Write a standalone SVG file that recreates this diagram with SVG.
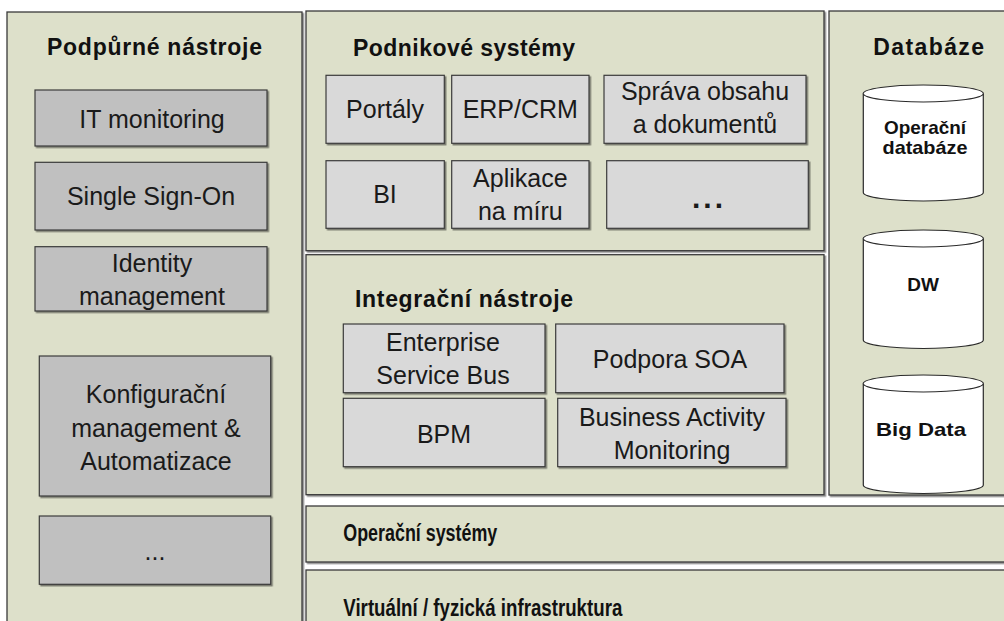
<svg xmlns="http://www.w3.org/2000/svg" width="1004" height="621" viewBox="0 0 1004 621">
<defs>
<filter id="ds" x="-5%" y="-5%" width="110%" height="110%">
<feDropShadow dx="1.5" dy="1.5" stdDeviation="0.4" flood-color="#000" flood-opacity="0.45"/>
</filter>
<style>
.panel{fill:#DDE0CA;stroke:#3a3a3a;stroke-width:1.3;filter:url(#ds)}
.boxL{fill:#C0C0C0;stroke:#3a3a3a;stroke-width:1.2;filter:url(#ds)}
.boxM{fill:#D9D9D9;stroke:#3a3a3a;stroke-width:1.2;filter:url(#ds)}
.cyl{fill:#FFFFFF;stroke:#2a2a2a;stroke-width:1.2}
.t{font-family:"Liberation Sans",Arial,sans-serif;font-weight:bold;font-size:23px;fill:#111}
.t2{font-family:"Liberation Sans",Arial,sans-serif;font-weight:bold;font-size:23px;fill:#111}
.b{font-family:"Liberation Sans",Arial,sans-serif;font-size:25px;fill:#1a1a1a;text-anchor:middle}
.c{font-family:"Liberation Sans",Arial,sans-serif;font-weight:bold;font-size:19px;fill:#111;text-anchor:middle}
</style>
</defs>
<rect width="1004" height="621" fill="#FFFFFF"/>

<g id="podpurne-nastroje">
<rect class="panel" x="7" y="12" width="295" height="630"/>
<text class="t" x="47" y="55" textLength="215" lengthAdjust="spacing">Podpůrné nástroje</text>
</g>
<g id="it-monitoring">
<rect class="boxL" x="35" y="90" width="232" height="56"/>
<text class="b" x="152" y="127.5">IT monitoring</text>
</g>
<g id="single-sign-on">
<rect class="boxL" x="35" y="162.3" width="232" height="67.7"/>
<text class="b" x="151" y="205">Single Sign-On</text>
</g>
<g id="identity-management">
<rect class="boxL" x="35" y="246.7" width="232" height="64.3"/>
<text class="b" x="152" y="272">Identity</text>
<text class="b" x="152" y="305">management</text>
</g>
<g id="konfiguracni-management">
<rect class="boxL" x="39.3" y="356" width="231.4" height="140"/>
<text class="b" x="156" y="403.3">Konfigurační</text>
<text class="b" x="156" y="436.7">management &amp;</text>
<text class="b" x="156" y="470">Automatizace</text>
</g>
<g id="podpurne-dalsi">
<rect class="boxL" x="39.3" y="516" width="231.4" height="68.3"/>
<text class="b" x="155" y="560">...</text>
</g>

<g id="podnikove-systemy">
<rect class="panel" x="306" y="11" width="518" height="239.7"/>
<text class="t" x="353" y="56" textLength="222" lengthAdjust="spacing">Podnikové systémy</text>
</g>
<g id="portaly">
<rect class="boxM" x="326" y="75.3" width="118.3" height="68"/>
<text class="b" x="385" y="118.3">Portály</text>
</g>
<g id="erp-crm">
<rect class="boxM" x="451.7" y="75.3" width="137.3" height="68"/>
<text class="b" x="520.3" y="118.3">ERP/CRM</text>
</g>
<g id="sprava-obsahu">
<rect class="boxM" x="604" y="75.3" width="202" height="68"/>
<text class="b" x="705" y="100">Správa obsahu</text>
<text class="b" x="705" y="133.3">a dokumentů</text>
</g>
<g id="bi">
<rect class="boxM" x="326" y="160.7" width="118.3" height="67.6"/>
<text class="b" x="385" y="203.3">BI</text>
</g>
<g id="aplikace-na-miru">
<rect class="boxM" x="451.7" y="160.7" width="137.3" height="67.6"/>
<text class="b" x="520.3" y="186.7">Aplikace</text>
<text class="b" x="520.3" y="220">na míru</text>
</g>
<g id="podnikove-dalsi">
<rect class="boxM" x="606.7" y="160.7" width="201.6" height="67.6"/>
<text class="b" x="707.5" y="208" style="font-weight:bold;font-size:30px" textLength="31" lengthAdjust="spacing">...</text>
</g>

<g id="integracni-nastroje">
<rect class="panel" x="306" y="254.7" width="518" height="240"/>
<text class="t" x="355" y="307.3" textLength="218" lengthAdjust="spacing">Integrační nástroje</text>
</g>
<g id="enterprise-service-bus">
<rect class="boxM" x="343.3" y="324" width="201.7" height="68.7"/>
<text class="b" x="443" y="350.7">Enterprise</text>
<text class="b" x="443" y="384">Service Bus</text>
</g>
<g id="podpora-soa">
<rect class="boxM" x="555.7" y="324" width="228.3" height="68.7"/>
<text class="b" x="670" y="368.3">Podpora SOA</text>
</g>
<g id="bpm">
<rect class="boxM" x="343.3" y="398.3" width="201.7" height="68.4"/>
<text class="b" x="444" y="443.3">BPM</text>
</g>
<g id="business-activity-monitoring">
<rect class="boxM" x="557.7" y="398.3" width="228.3" height="68.4"/>
<text class="b" x="672" y="425.7">Business Activity</text>
<text class="b" x="672" y="459">Monitoring</text>
</g>

<g id="databaze">
<rect class="panel" x="829" y="11" width="190" height="484"/>
<text class="t" x="873.3" y="55" textLength="110.7" lengthAdjust="spacing">Databáze</text>
</g>
<g id="operacni-databaze">
<path class="cyl" d="M863.3,93.5 A60,8.5 0 0 1 983.3,93.5 V192.5 A60,8.5 0 0 1 863.3,192.5 Z"/>
<path class="cyl" fill="none" d="M863.3,93.5 A60,8.5 0 0 0 983.3,93.5"/>
<text class="c" x="925" y="134" textLength="82" lengthAdjust="spacingAndGlyphs">Operační</text>
<text class="c" x="925" y="153.5" textLength="85" lengthAdjust="spacingAndGlyphs">databáze</text>
</g>
<g id="dw">
<path class="cyl" d="M863.3,238.5 A60,8.5 0 0 1 983.3,238.5 V340 A60,8.5 0 0 1 863.3,340 Z"/>
<path class="cyl" fill="none" d="M863.3,238.5 A60,8.5 0 0 0 983.3,238.5"/>
<text class="c" x="923" y="290.5">DW</text>
</g>
<g id="big-data">
<path class="cyl" d="M863.3,383.5 A60,8.5 0 0 1 983.3,383.5 V485 A60,8.5 0 0 1 863.3,485 Z"/>
<path class="cyl" fill="none" d="M863.3,383.5 A60,8.5 0 0 0 983.3,383.5"/>
<text class="c" x="921" y="435.5" textLength="90" lengthAdjust="spacingAndGlyphs">Big Data</text>
</g>

<g id="operacni-systemy">
<rect class="panel" x="306" y="506" width="710" height="56"/>
<text class="t2" x="343.3" y="540.5" textLength="154" lengthAdjust="spacingAndGlyphs">Operační systémy</text>
</g>
<g id="virtualni-infrastruktura">
<rect class="panel" x="306" y="570" width="710" height="70"/>
<text class="t2" x="343.3" y="615.5" textLength="279" lengthAdjust="spacingAndGlyphs">Virtuální / fyzická infrastruktura</text>
</g>

<g id="connectors"/>
</svg>
